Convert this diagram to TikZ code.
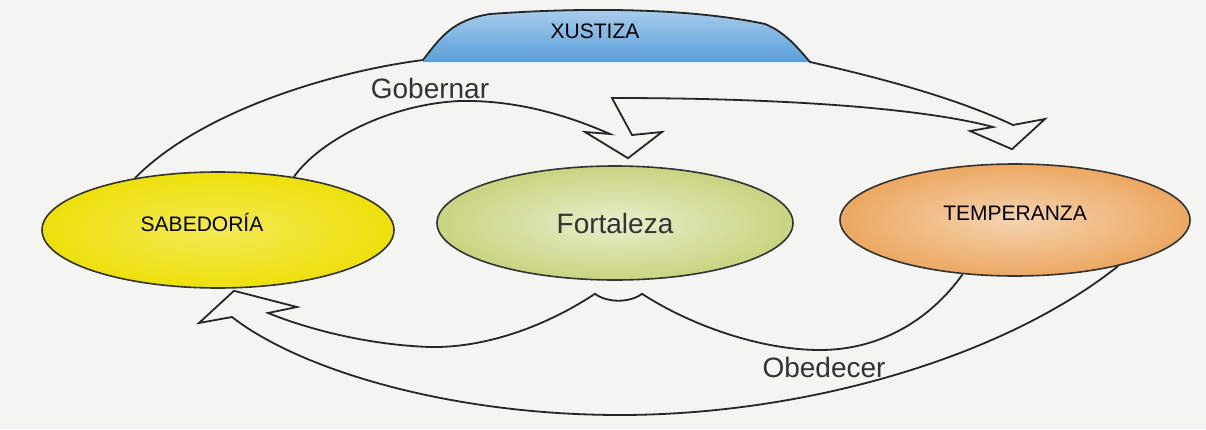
\documentclass[tikz,border=0pt]{standalone}
\usepackage{fontspec}
\setmainfont{Liberation Sans}
\usetikzlibrary{shapes, positioning, calc}
\definecolor{bgcol}{RGB}{244,244,243}
\definecolor{sabyellow}{RGB}{238,224,12}
\definecolor{forgreen}{RGB}{200,212,128}
\definecolor{temorange}{RGB}{236,168,98}
\definecolor{xusblue}{RGB}{72,148,214}
\tikzset{
         myoval/.style={ellipse, draw=black!80, line width=0.8pt, inner sep=0pt, minimum width=176pt, minimum height=58pt},
         mycaps/.style={font=\fontsize{10.5}{12}\selectfont, text=black},
         mytag/.style={font=\fontsize{14}{16}\selectfont, text=black!80},
         myband/.style={draw=black!85, line width=0.9pt, line join=miter}
      }

\begin{document}
\begin{tikzpicture}[x=0.5pt, y=-0.5pt]
  \fill[bgcol] (0,0) rectangle (1206,429);
  \useasboundingbox (0,0) rectangle (1206,429);

  % the three virtues below
  \node[myoval, shading=radial, inner color=sabyellow!70!white, outer color=sabyellow,
        label={[mycaps, xshift=-8pt, yshift=4pt]center:SABEDORÍA}] (sab) at (218,230) {};
  \node[myoval, minimum width=178pt, minimum height=57pt, shading=radial,
        inner color=forgreen!40!white, outer color=forgreen, mytag] (for) at (615,223) {Fortaleza};
  \node[myoval, minimum width=175pt, minimum height=56pt, shading=radial,
        inner color=temorange!50!white, outer color=temorange,
        label={[mycaps, yshift=3.5pt]center:TEMPERANZA}] (tem) at (1015,220) {};

  % tips and tails of the two bands
  \coordinate (gtipF) at ($(for.north)+(13,-7)$);
  \coordinate (gtipT) at ($(tem.north)+(-3,-14)$);
  \coordinate (otipS) at ($(sab.south)+(16,2)$);
  \coordinate (tailL) at ($(for.south)+(-20,13)$);
  \coordinate (tailR) at ($(for.south)+(27,13)$);

  % XUSTIZA on top of the band
  \shade[top color=xusblue!45!white, bottom color=xusblue!90!white]
    (423,62) .. controls (440,38) and (452,20) .. (490,14)
    .. controls (600,6) and (700,10) .. (765,24)
    .. controls (785,32) and (798,48) .. (810,62) -- cycle;
  \node[mycaps] (xus) at (595,31) {XUSTIZA};

  % Gobernar
  \draw[myband] (sab.148) .. controls (200,112) and (330,72) .. (423,60)
    .. controls (440,38) and (452,20) .. (490,14)
    .. controls (600,6) and (700,10) .. (765,24)
    .. controls (785,32) and (798,48) .. (810,62)
    .. controls (890,80) and (960,100) .. (1013,125)
    -- (1045,119) -- (gtipT) -- (970,131) -- (993,127)
    .. controls (930,110) and (800,98) .. (612,98)
    -- (632,135) -- (662,132) -- (gtipF) -- (585,132) -- (610,134)
    .. controls (560,112) and (510,100) .. (460,101)
    .. controls (390,104) and (320,140) .. (sab.35);
  \node[mytag] (gob) at (430,88) {Gobernar};

  % Obedecer
  \draw[myband] (tem.226) .. controls (930,320) and (880,350) .. (820,350)
    .. controls (760,350) and (690,325) .. (tailR)
    .. controls (630,303) and (607,303) .. (tailL)
    .. controls (540,330) and (480,348) .. (430,347)
    .. controls (370,345) and (310,330) .. (268,313)
    -- (297,307) -- (otipS) -- (199,323) -- (232,317)
    .. controls (300,370) and (450,415) .. (620,415)
    .. controls (800,415) and (1000,360) .. (tem.336);
  \node[mytag] (obe) at (824,367) {Obedecer};
\end{tikzpicture}
\end{document}
